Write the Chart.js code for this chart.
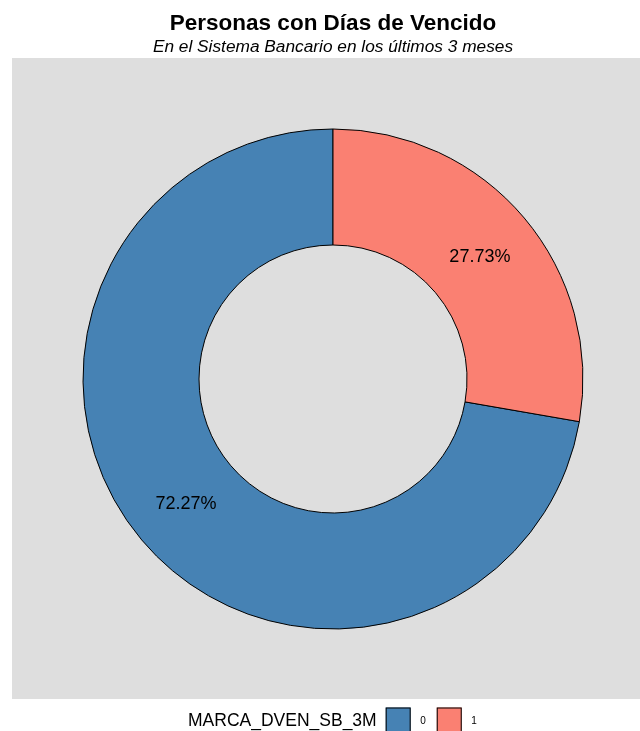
<!DOCTYPE html>
<html>
<head>
<meta charset="utf-8">
<script src="https://cdn.jsdelivr.net/npm/chart.js@4/dist/chart.umd.min.js"></script>
<style>
html,body{margin:0;padding:0;background:#fff;}
canvas{display:block;}
</style>
</head>
<body>
<canvas id="c" width="640" height="731"></canvas>
<script>
const categories = ['0', '1'];
const percentValues = [72.27, 27.73];
const sliceColors = ['#4682B4', '#FA8072'];
const legendTitle = 'MARCA_DVEN_SB_3M';
const chartTitle = 'Personas con Días de Vencido';
const chartSubtitle = 'En el Sistema Bancario en los últimos 3 meses';

const FONT = '"Liberation Sans", Arial, sans-serif';

const panelPlugin = {
  id: 'panel',
  beforeDraw(chart) {
    const ctx = chart.ctx;
    ctx.save();
    ctx.fillStyle = '#DEDEDE';
    ctx.fillRect(12, 58, 628, 641);
    ctx.restore();
  }
};

const labelPlugin = {
  id: 'sliceLabels',
  afterDatasetsDraw(chart) {
    const ctx = chart.ctx;
    const meta = chart.getDatasetMeta(0);
    const vals = chart.data.datasets[0].data;
    ctx.save();
    ctx.font = '18px ' + FONT;
    ctx.fillStyle = '#000';
    ctx.textAlign = 'center';
    ctx.textBaseline = 'middle';
    meta.data.forEach((arc, i) => {
      const p = arc.tooltipPosition();
      ctx.fillText(vals[i].toFixed(2) + '%', p.x, p.y + 1.5);
    });
    ctx.restore();
  }
};

const legendPlugin = {
  id: 'ggLegend',
  afterDraw(chart) {
    const ctx = chart.ctx;
    const labels = chart.data.labels;
    const colors = chart.data.datasets[0].backgroundColor;
    const cy = 720;
    ctx.save();
    ctx.textBaseline = 'middle';
    ctx.textAlign = 'left';
    ctx.fillStyle = '#000';
    ctx.font = '17.5px ' + FONT;
    const titleW = ctx.measureText(legendTitle).width;
    const box = 25, gapTitle = 9, gapLabel = 9.5, gapItem = 11;
    let x = 188;
    ctx.fillText(legendTitle, x, cy + 1);
    x += titleW + gapTitle;
    labels.forEach((l, i) => {
      ctx.fillStyle = colors[i];
      ctx.fillRect(x, cy - box / 2, box, box);
      ctx.strokeStyle = '#000';
      ctx.lineWidth = 1;
      ctx.strokeRect(x + 0.5, cy - box / 2 + 0.5, box - 1, box - 1);
      x += box + gapLabel;
      ctx.fillStyle = '#000';
      ctx.font = '10px ' + FONT;
      ctx.fillText(l, x, cy + 1);
      x += ctx.measureText(l).width + gapItem;
    });
    ctx.restore();
  }
};

const share1 = percentValues[1] / percentValues.reduce((a, b) => a + b, 0);

new Chart(document.getElementById('c'), {
  type: 'doughnut',
  data: {
    labels: categories,
    datasets: [{
      data: percentValues,
      backgroundColor: sliceColors,
      borderColor: '#000',
      borderWidth: 1
    }]
  },
  options: {
    responsive: false,
    animation: false,
    rotation: share1 * 360,
    radius: 250,
    cutout: '53.6%',
    layout: { padding: { left: 26, right: 0, top: 0, bottom: 31 } },
    plugins: {
      legend: { display: false },
      tooltip: { enabled: false },
      title: {
        display: true,
        text: chartTitle,
        color: '#000',
        font: { family: FONT, size: 22.5, weight: 'bold', lineHeight: 1 },
        padding: { top: 12.5, bottom: 0 }
      },
      subtitle: {
        display: true,
        text: chartSubtitle,
        color: '#000',
        font: { family: FONT, size: 17.3, style: 'italic', lineHeight: 1 },
        padding: { top: 3.5, bottom: 2.2 }
      }
    }
  },
  plugins: [panelPlugin, labelPlugin, legendPlugin]
});
</script>
</body>
</html>
